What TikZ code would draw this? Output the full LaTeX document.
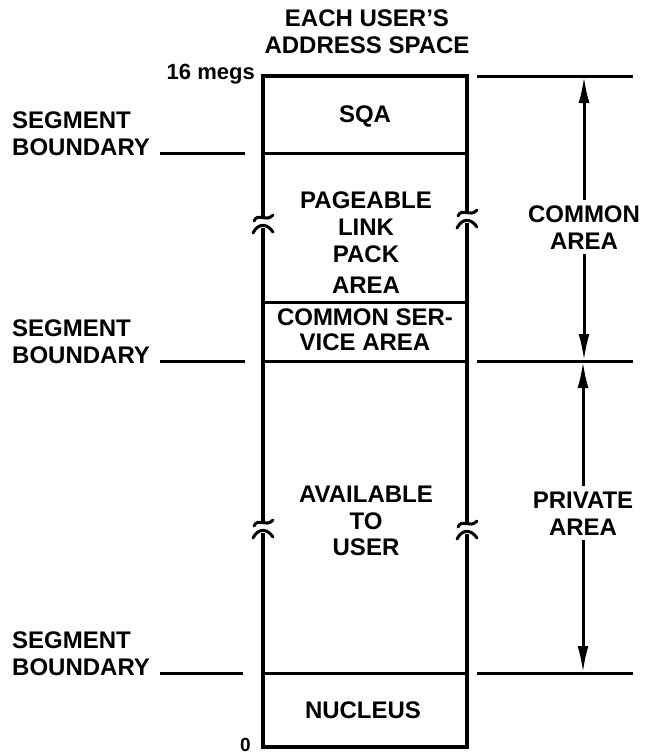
\documentclass[tikz,border=0pt]{standalone}
\usepackage{fontspec}
\setmainfont{Liberation Sans}
\usetikzlibrary{arrows.meta}

\tikzset{
  lbl/.style={font=\fontsize{24}{27}\selectfont\bfseries, align=center, inner sep=0pt, anchor=base},
  side/.style={font=\fontsize{24}{27}\selectfont\bfseries, align=left, inner sep=0pt, anchor=base west},
  limit/.style={font=\fontsize{22}{26}\selectfont\bfseries, inner sep=0pt, anchor=base east},
  wall/.style={line width=3.4pt},
  rule/.style={line width=3pt},
  dim/.style={line width=3pt, -{Latex[length=27pt,width=11pt]}},
  brk/.style={line width=3pt, line cap=round},
}

% break mark on a wall: x, y of upper end, y of lower end
\newcommand{\wallbreak}[3]{%
  \draw[brk] (#1-9,#2+4) .. controls (#1-5,#2-5) and (#1+3,#2+6) .. (#1+10,#2-2);
  \draw[brk] (#1-10,#3+5) .. controls (#1-5,#3-5) and (#1+4,#3-5) .. (#1+10,#3+4);
}

\begin{document}
\begin{tikzpicture}[x=1pt,y=-1pt]
\useasboundingbox (0,0) rectangle (647,755);

% Title (base = last line)
\node[lbl] (title) at (367,53) {EACH USER'S\\ADDRESS SPACE};
\node[limit] (high) at (255,79) {16 megs};
\node[limit, font=\fontsize{19}{22}\selectfont\bfseries] (low) at (251,751) {0};

% Address space column
\draw[wall] (263,217) -- (263,76) -- (467,76) -- (467,212);
\draw[wall] (263,228) -- (263,522);
\draw[wall] (467,223) -- (467,523);
\draw[wall] (263,533) -- (263,747) -- (467,747) -- (467,534);
\wallbreak{263}{217}{228}
\wallbreak{467}{212}{223}
\wallbreak{263}{522}{533}
\wallbreak{467}{523}{534}
\draw[rule] (263,153) -- (467,153);
\draw[rule] (263,302) -- (467,302);
\draw[rule] (263,361) -- (467,361);
\draw[rule] (263,673) -- (467,673);

% Areas
\node[lbl] (sqa) at (365,122) {SQA};
\node[lbl] (plpa) at (366,293) {PAGEABLE\\LINK\\PACK\\[4pt]AREA};
\node[lbl] (csa) at (365,350) {COMMON SER-\\[-2pt]VICE AREA};
\node[lbl] (user) at (366,555) {AVAILABLE\\TO\\[-1pt]USER};
\node[lbl] (nucleus) at (363,718) {NUCLEUS};

% Segment boundaries
\node[side] (seg1) at (12,155) {SEGMENT\\BOUNDARY};
\coordinate (s1a) at (160,153);
\coordinate (s1b) at (245,153);
\draw[rule] (s1a) -- (s1b);

\node[side] (seg2) at (12,363) {SEGMENT\\BOUNDARY};
\coordinate (s2a) at (160,361);
\coordinate (s2b) at (245,361);
\draw[rule] (s2a) -- (s2b);

\node[side] (seg3) at (12,675) {SEGMENT\\BOUNDARY};
\coordinate (s3a) at (160,673);
\coordinate (s3b) at (243,673);
\draw[rule] (s3a) -- (s3b);

% Common / private extent
\coordinate (r1a) at (477,76);
\coordinate (r1b) at (633,76);
\coordinate (r2a) at (477,361);
\coordinate (r2b) at (633,361);
\coordinate (r3a) at (477,673);
\coordinate (r3b) at (633,673);
\draw[rule] (r1a) -- (r1b);
\draw[rule] (r2a) -- (r2b);
\draw[rule] (r3a) -- (r3b);

\node[lbl, inner ysep=5pt] (common) at (584,249) {COMMON\\AREA};
\draw[dim] (common.north) -- (common.north |- r1a);
\draw[dim] (common.south) -- (common.south |- r2a);

\node[lbl, inner ysep=5pt] (private) at (583,535) {PRIVATE\\AREA};
\draw[dim] (private.north) -- (private.north |- r2a);
\draw[dim] (private.south) -- (private.south |- r3a);

\end{tikzpicture}
\end{document}
